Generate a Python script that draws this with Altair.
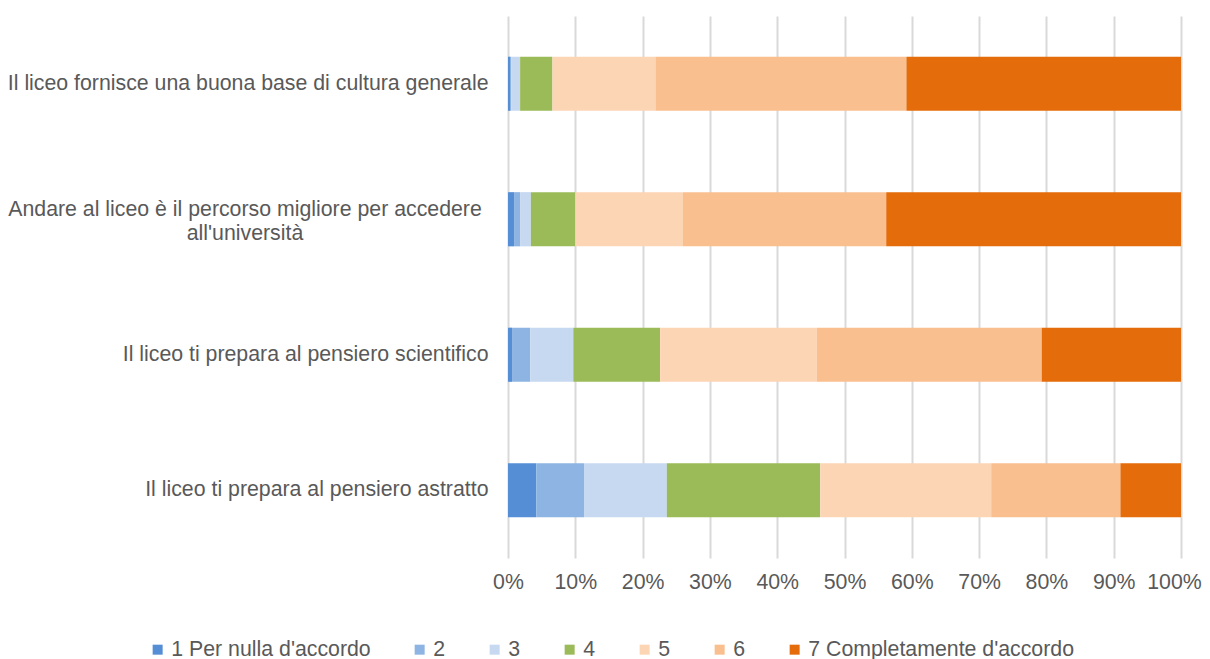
import altair as alt
import pandas as pd

categories = [
    "Il liceo fornisce una buona base di cultura generale",
    "Andare al liceo è il percorso migliore per accedere all'università",
    "Il liceo ti prepara al pensiero scientifico",
    "Il liceo ti prepara al pensiero astratto",
]
wrapped_label = ["Andare al liceo è il percorso migliore per accedere", "all'università"]
levels = ["1 Per nulla d'accordo", "2", "3", "4", "5", "6", "7 Completamente d'accordo"]
colors = ["#558ED5", "#8DB4E2", "#C6D9F0", "#9BBB59", "#FCD5B4", "#FABF8F", "#E46C0A"]

# percentage of answers per level (1..7) for each statement
cultura = [0.3, 0.2, 1.3, 4.8, 15.3, 37.3, 40.8]
universita = [0.9, 0.9, 1.6, 6.6, 16.0, 30.2, 43.8]
scientifico = [0.6, 2.7, 6.4, 12.9, 23.3, 33.4, 20.7]
astratto = [4.2, 7.1, 12.3, 22.8, 25.4, 19.2, 9.0]

series = [cultura, universita, scientifico, astratto]
rows = []
for cat, vals in zip(categories, series):
    for i, (lev, v) in enumerate(zip(levels, vals)):
        rows.append({"statement": cat, "level": lev, "idx": i, "value": v})
df = pd.DataFrame(rows)

FONT = "Liberation Sans"
TXT = "#595959"
FS = 21.3

label_expr = "datum.value == \"" + categories[1] + "\" ? '' : datum.value"

y_enc = alt.Y(
    "statement:N",
    sort=categories,
    title=None,
    scale=alt.Scale(paddingInner=0.6, paddingOuter=0.3),
    axis=alt.Axis(
        domain=False,
        ticks=False,
        labelPadding=20,
        labelFont=FONT,
        labelFontSize=FS,
        labelColor=TXT,
        labelLimit=600,
        labelExpr=label_expr,
    ),
)

bars = (
    alt.Chart(df)
    .mark_bar()
    .encode(
        y=y_enc,
        x=alt.X(
            "value:Q",
            stack="normalize",
            title=None,
            scale=alt.Scale(domain=[0, 1]),
            axis=alt.Axis(
                format=".0%",
                values=[i / 10 for i in range(11)],
                domain=False,
                ticks=False,
                grid=True,
                gridColor="#D9D9D9",
                gridWidth=2,
                labelPadding=13,
                labelFlush=False,
                labelOverlap=False,
                labelOffset={"condition": {"test": "datum.value == 1", "value": -7}, "value": 0},
                labelFont=FONT,
                labelFontSize=FS,
                labelColor=TXT,
            ),
        ),
        color=alt.Color(
            "level:N",
            scale=alt.Scale(domain=levels, range=colors),
            legend=alt.Legend(
                title=None,
                orient="none",
                direction="horizontal",
                columns=7,
                legendX=-361,
                legendY=623,
                columnPadding=38,
                symbolType="square",
                symbolSize=100,
                symbolStrokeWidth=0,
                labelOffset=3,
                labelFont=FONT,
                labelFontSize=FS,
                labelColor=TXT,
                labelLimit=400,
                padding=0,
            ),
        ),
        order=alt.Order("idx:Q"),
    )
)

wrapped = (
    alt.Chart(df)
    .transform_filter(alt.datum.statement == categories[1])
    .transform_filter(alt.datum.idx == 0)
    .mark_text(
        align="center",
        baseline="middle",
        font=FONT,
        fontSize=FS,
        color=TXT,
        lineHeight=24,
        dy=-9,
    )
    .encode(
        y=alt.Y("statement:N", sort=categories),
        x=alt.value(-263),
        text=alt.value(wrapped_label),
    )
)

chart = (
    alt.layer(bars, wrapped)
    .properties(
        width=673,
        height=542,
        autosize=alt.AutoSizeParams(type="none"),
        padding={"left": 500, "top": 8, "right": 21, "bottom": 110},
    )
    .configure_view(stroke=None)
)

chart.save("out.html", embed_options={"renderer": "svg", "actions": False})
